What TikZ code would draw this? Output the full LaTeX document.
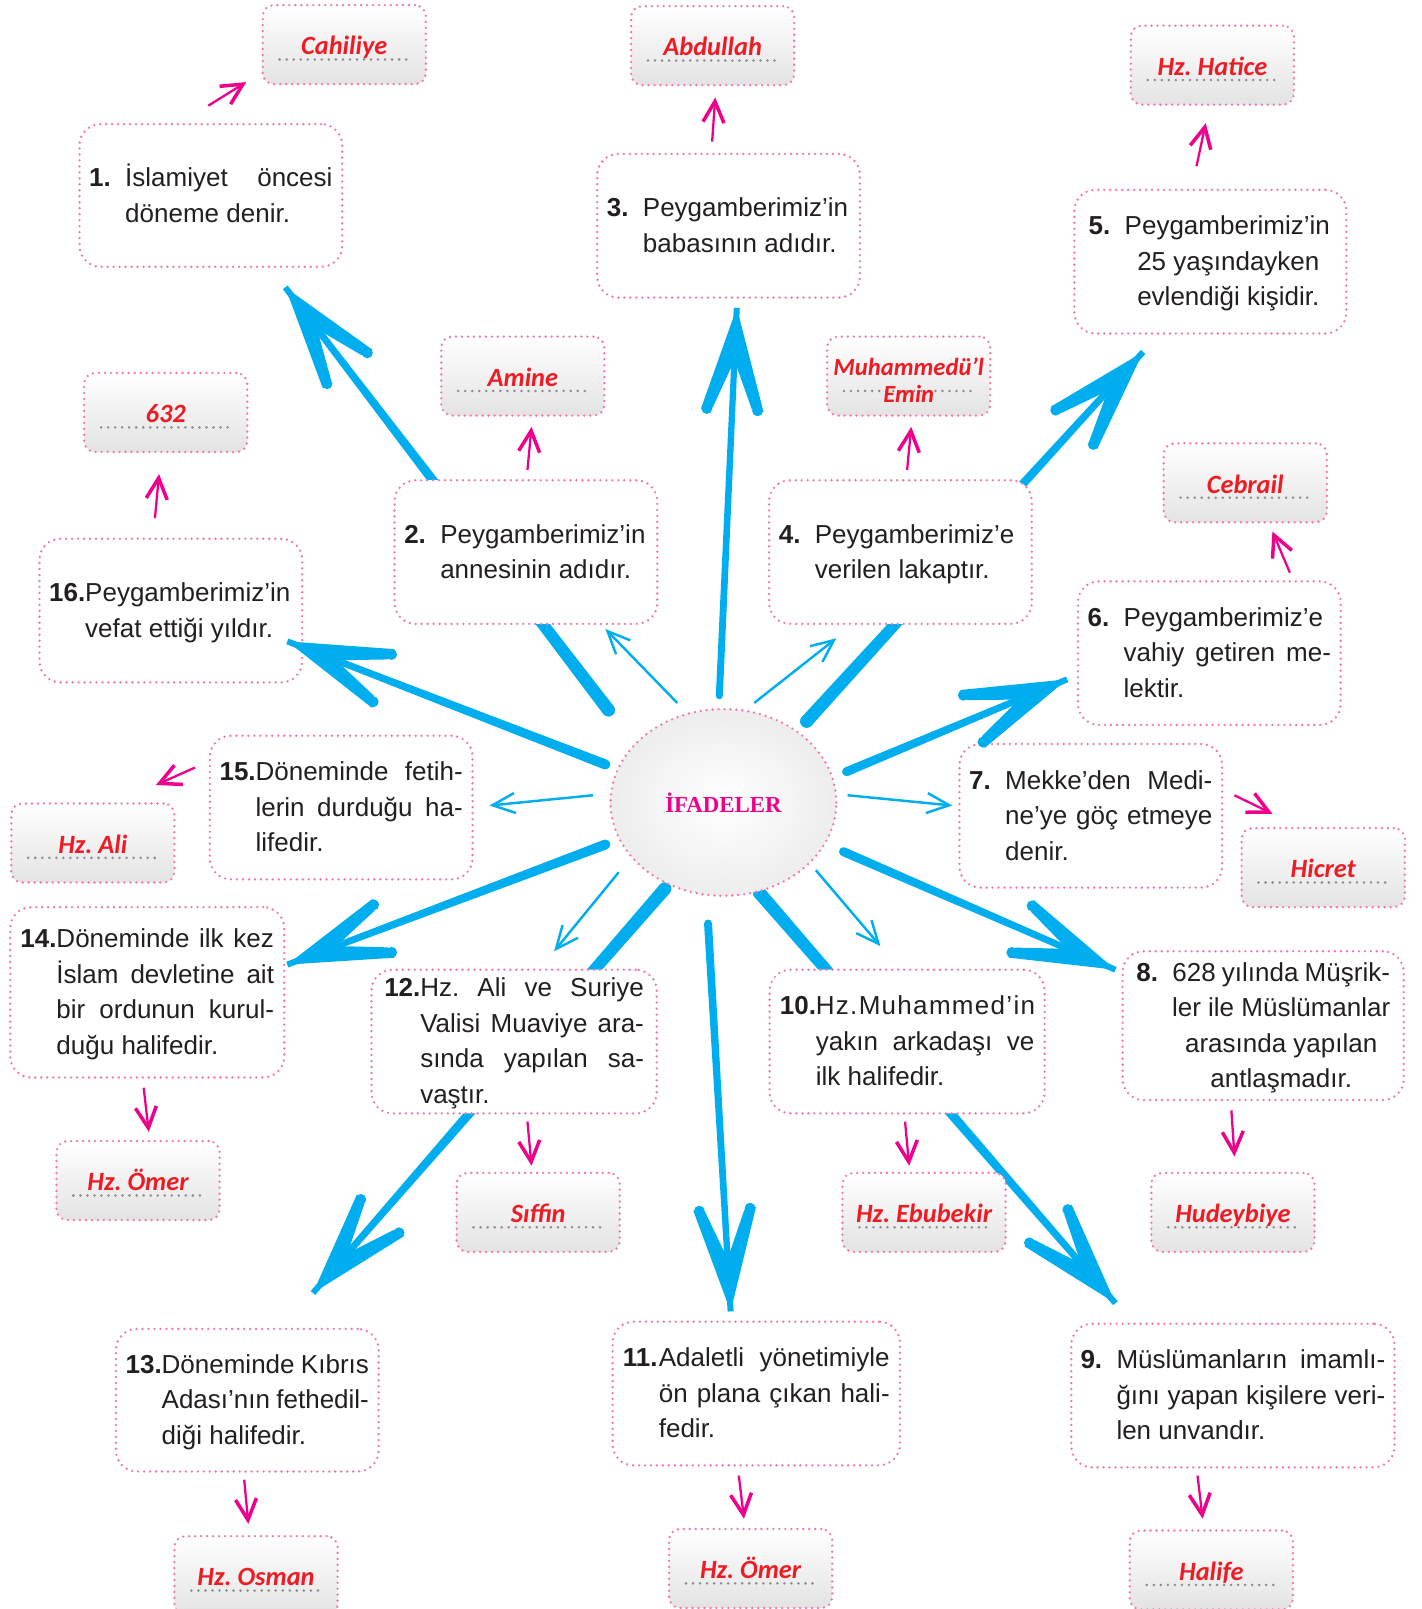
\documentclass[tikz,border=0pt]{standalone}
\usepackage{fontspec}
\setmainfont{Liberation Sans}
\newfontfamily\answerfont{Carlito}
\newfontfamily\titlefont{Liberation Serif}
\usetikzlibrary{calc,shapes.geometric,arrows.meta}

\definecolor{spokeblue}{HTML}{00AEEF}
\definecolor{boxpink}{HTML}{F277B0}
\definecolor{arrowpink}{HTML}{EC008C}
\definecolor{answerred}{HTML}{ED1C24}
\definecolor{dotgray}{HTML}{8C8C8C}
\definecolor{textblack}{HTML}{231F20}

\newlength{\upx}
\setlength{\upx}{0.02052cm}
\hyphenpenalty=10000
\frenchspacing

% numarali soru metni
\newcommand{\qitem}[3]{\makebox[0.72cm][l]{\rule{0pt}{13pt}\bfseries #1}\parbox[t]{#2\upx}{#3\rule[-3pt]{0pt}{0pt}}}
\newcommand{\jl}[1]{\makebox[\linewidth][s]{#1}}
\newcommand{\cl}[1]{\makebox[\linewidth][c]{#1}}
% kalin mavi ok: govde + uc
\newcommand{\bigspoke}[2]{%
  \fill[spoke] ($(s#1)!#2!90:(t#1)$) -- ($(t#1)!0.06cm!-90:(s#1)$) -- ($(t#1)!0.06cm!90:(s#1)$) -- ($(s#1)!#2!-90:(t#1)$) -- cycle;
  \fill[spoke] (s#1) circle (#2);
  \fill[spoke] (t#1) -- ($(t#1)!2.15cm!17:(s#1)$) -- ($(t#1)!2.05cm!11:(s#1)$) -- ($(t#1)!1.05cm!(s#1)$) -- ($(t#1)!2.05cm!-11:(s#1)$) -- ($(t#1)!2.15cm!-17:(s#1)$) -- cycle;
  \fill[spoke] ($(t#1)!2.1cm!14:(s#1)$) circle (0.11cm) ($(t#1)!2.1cm!-14:(s#1)$) circle (0.11cm);}

\begin{document}
\begin{tikzpicture}[x=0.02052cm, y=-0.02052cm,
    dotborder/.style={draw=boxpink, line width=1.5pt, dash pattern=on 0pt off 3.4pt, line cap=round},
    qbox/.style={dotborder, rounded corners=0.42cm, fill=white, inner sep=0pt,
      minimum width=256*\upx, minimum height=140*\upx,
      font=\fontsize{14.8}{20.2}\selectfont, text=textblack},
    abox/.style={dotborder, rounded corners=0.22cm, top color=white, middle color=white, bottom color=black!11,
      inner sep=0pt, minimum width=159*\upx, minimum height=77*\upx, text height=11.7pt, text depth=0pt,
      font=\answerfont\bfseries\itshape\fontsize{15}{15}\selectfont, text=answerred,
      path picture={\draw[dotgray, line width=1.6pt, dash pattern=on 0pt off 4pt, line cap=round]
        ($(path picture bounding box.center)+(-63,14.5)$) -- ($(path picture bounding box.center)+(63,14.5)$);}},
    spoke/.style={fill=spokeblue},
    thinspoke/.style={draw=spokeblue, line width=1.4pt, -{Straight Barb[length=0.45cm,width=0.4cm]}},
    pinkarrow/.style={draw=arrowpink, line width=1.3pt, -{Straight Barb[length=0.42cm,width=0.42cm,line width=2pt]}}]

    \useasboundingbox (0,0) rectangle (1385,1568);

    % kalin oklarin baslangic ve uclari
    \coordinate (s1) at (593,692);   \coordinate (t1) at (278,280);
    \coordinate (s2) at (701,678);   \coordinate (t2) at (718,300);
    \coordinate (s3) at (786,703);   \coordinate (t3) at (1114,343);
    \coordinate (s4) at (590,745);   \coordinate (t4) at (280,625);
    \coordinate (s5) at (825,752);   \coordinate (t5) at (1040,662);
    \coordinate (s6) at (590,823);   \coordinate (t6) at (280,940);
    \coordinate (s7) at (822,830);   \coordinate (t7) at (1087,945);
    \coordinate (s8) at (648,866);   \coordinate (t8) at (305,1260);
    \coordinate (s9) at (690,900);   \coordinate (t9) at (712,1278);
    \coordinate (s10) at (740,870);  \coordinate (t10) at (1087,1270);

    % kutularin arkasinda kalan oklar
    \bigspoke{1}{0.13cm}
    \bigspoke{3}{0.13cm}
    \bigspoke{8}{0.13cm}
    \bigspoke{10}{0.13cm}

    % soru kutulari
    \node[qbox, minimum height=139*\upx] (q1) at (205.5,190.5) {\qitem{1.}{202}{\jl{İslamiyet öncesi}\\döneme denir.}};
    \node[qbox] (q2) at (512.5,538) {\qitem{2.}{202}{Peygamberimiz’in\\annesinin adıdır.}};
    \node[qbox] (q3) at (710,220) {\qitem{3.}{202}{Peygamberimiz’in\\babasının adıdır.}};
    \node[qbox] (q4) at (877.5,538) {\qitem{4.}{202}{Peygamberimiz’e\\verilen lakaptır.}};
    \node[qbox, minimum width=265*\upx] (q5) at (1179.5,255) {\qitem{5.}{202}{Peygamberimiz’in\\\cl{25 yaşındayken}\\\cl{evlendiği kişidir.}}};
    \node[qbox] (q6) at (1178.5,636.5) {\qitem{6.}{202}{Peygamberimiz’e\\\jl{vahiy getiren me-}\\lektir.}};
    \node[qbox] (q7) at (1063,795) {\qitem{7.}{202}{\jl{Mekke’den Medi-}\\\jl{ne’ye göç etmeye}\\denir.}};
    \node[qbox, minimum width=274*\upx, minimum height=145*\upx] (q8) at (1231,999.5) {\qitem{8.}{212}{\jl{628 yılında Müşrik-}\\\cl{ler ile Müslümanlar}\\\cl{arasında yapılan}\\\cl{antlaşmadır.}}};
    \node[qbox, minimum width=315*\upx] (q9) at (1201.5,1360) {\qitem{9.}{262}{\jl{Müslümanların imamlı-}\\\jl{ğını yapan kişilere veri-}\\len unvandır.}};
    \node[qbox, minimum width=268*\upx] (q10) at (884,1015) {\qitem{10.}{213}{\jl{\addfontfeature{LetterSpace=5}Hz.Muhammed’in}\\\jl{yakın arkadaşı ve}\\ilk halifedir.}};
    \node[qbox, minimum width=280*\upx] (q11) at (737,1358) {\qitem{11.}{225}{\jl{Adaletli yönetimiyle}\\\jl{ön plana çıkan hali-}\\fedir.}};
    \node[qbox, minimum width=278*\upx] (q12) at (501,1015) {\qitem{12.}{218}{\jl{Hz. Ali ve Suriye}\\\jl{Valisi Muaviye ara-}\\\jl{sında yapılan sa-}\\vaştır.}};
    \node[qbox, minimum height=139*\upx] (q13) at (241,1364.5) {\qitem{13.}{202}{\jl{Döneminde Kıbrıs}\\\jl{Adası’nın fethedil-}\\diği halifedir.}};
    \node[qbox, minimum width=267*\upx, minimum height=166*\upx] (q14) at (143.5,967) {\qitem{14.}{212}{\jl{Döneminde ilk kez}\\\jl{İslam devletine ait}\\\jl{bir ordunun kurul-}\\duğu halifedir.}};
    \node[qbox] (q15) at (332.5,787) {\qitem{15.}{202}{\jl{Döneminde fetih-}\\\jl{lerin durduğu ha-}\\lifedir.}};
    \node[qbox] (q16) at (166.5,595) {\qitem{16.}{202}{Peygamberimiz’in\\vefat ettiği yıldır.}};

    % one cikan oklar
    \bigspoke{2}{0.07cm}
    \bigspoke{4}{0.1cm}
    \bigspoke{5}{0.09cm}
    \bigspoke{6}{0.1cm}
    \bigspoke{7}{0.09cm}
    \bigspoke{9}{0.08cm}

    % ince mavi oklar
    \coordinate (u1) at (660,685);  \coordinate (v1) at (590,613);
    \coordinate (u2) at (735,685);  \coordinate (v2) at (815,622);
    \coordinate (u3) at (578,775);  \coordinate (v3) at (477,785);
    \coordinate (u4) at (826,775);  \coordinate (v4) at (928,785);
    \coordinate (u5) at (603,850);  \coordinate (v5) at (540,927);
    \coordinate (u6) at (795,848);  \coordinate (v6) at (858,922);
    \foreach \i in {1,...,6}
        \draw[thinspoke] (u\i) -- (v\i);

    % orta elips
    \node[ellipse, dotborder, inner color=white, outer color=black!7,
          minimum width=220*\upx, minimum height=182*\upx,
          font=\titlefont\bfseries\fontsize{13}{13}\selectfont, text=arrowpink] (center) at (705,782) {İFADELER};

    % cevap kutulari
    \node[abox] (a1) at (335.5,43.5) {Cahiliye};
    \node[abox] (a2) at (509.5,366.5) {Amine};
    \node[abox] (a3) at (694.5,44.5) {Abdullah};
    \node[abox, text height=29.8pt, font=\answerfont\bfseries\itshape\fontsize{14}{15}\selectfont] (a4) at (885.5,366.5)
        {\begin{tabular}[b]{@{}c@{}}Muhammedü’l\\Emin\end{tabular}};
    \node[abox] (a5) at (1181.5,63.5) {Hz. Hatice};
    \node[abox] (a6) at (1213.5,470.5) {Cebrail};
    \node[abox] (a7) at (1289.5,845.5) {Hicret};
    \node[abox] (a8) at (1201.5,1181.5) {Hudeybiye};
    \node[abox] (a9) at (1180.5,1530) {Halife};
    \node[abox] (a10) at (900.5,1181.5) {Hz. Ebubekir};
    \node[abox] (a11) at (731.5,1528.5) {Hz. Ömer};
    \node[abox] (a12) at (524.5,1181.5) {Sıffin};
    \node[abox] (a13) at (249.5,1535.5) {Hz. Osman};
    \node[abox] (a14) at (134.5,1150.5) {Hz. Ömer};
    \node[abox] (a15) at (90.5,821.5) {Hz. Ali};
    \node[abox] (a16) at (161.5,402) {632};

    % pembe oklar (soru -> cevap)
    \coordinate (p1a) at (203,103);   \coordinate (p1b) at (240,80);
    \coordinate (p2a) at (514,458);   \coordinate (p2b) at (518,416);
    \coordinate (p3a) at (694,138);   \coordinate (p3b) at (697,95);
    \coordinate (p4a) at (884,458);   \coordinate (p4b) at (888,416);
    \coordinate (p5a) at (1166,162);  \coordinate (p5b) at (1175,120);
    \coordinate (p6a) at (1257,558);  \coordinate (p6b) at (1240,518);
    \coordinate (p7a) at (1203,775);  \coordinate (p7b) at (1240,793);
    \coordinate (p8a) at (1200,1082); \coordinate (p8b) at (1203,1127);
    \coordinate (p9a) at (1167,1438); \coordinate (p9b) at (1172,1480);
    \coordinate (p10a) at (882,1093); \coordinate (p10b) at (886,1136);
    \coordinate (p11a) at (720,1438); \coordinate (p11b) at (725,1480);
    \coordinate (p12a) at (514,1093); \coordinate (p12b) at (518,1136);
    \coordinate (p13a) at (238,1442); \coordinate (p13b) at (242,1485);
    \coordinate (p14a) at (140,1060); \coordinate (p14b) at (145,1103);
    \coordinate (p15a) at (190,748);  \coordinate (p15b) at (152,765);
    \coordinate (p16a) at (151,505);  \coordinate (p16b) at (155,462);
    \foreach \i in {1,...,16}
        \draw[pinkarrow] (p\i a) -- (p\i b);

\end{tikzpicture}
\end{document}
